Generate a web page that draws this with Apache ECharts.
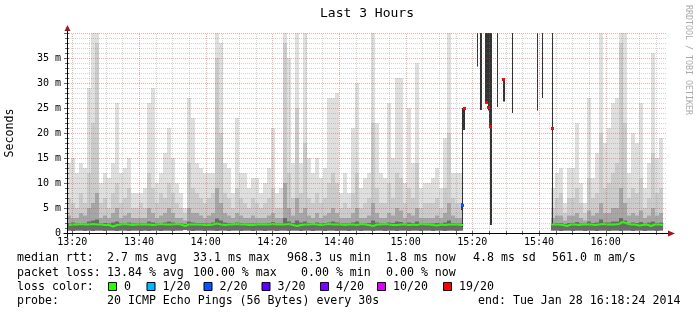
<!DOCTYPE html>
<html><head><meta charset="utf-8">
<script src="https://cdn.jsdelivr.net/npm/echarts@6/dist/echarts.min.js"></script>
<style>html,body{margin:0;padding:0;background:#fff}#c{width:697px;height:315px}</style>
</head><body><div id="c"></div>
<script>
// ---- time base: minutes since midnight, 3 hours ending 16:18:24 ----
const START = 798.4, END = 978.4;
const STEP = 1.2;   // one smoke column = 72 s
const PING = 0.3;   // one pixel column = 18 s
const Y_MAX = 40;

const xTickValues = [800, 820, 840, 860, 880, 900, 920, 940, 960];
const xTickLabels = ['13:20','13:40','14:00','14:20','14:40','15:00','15:20','15:40','16:00'];
const yTickValues = [0, 5, 10, 15, 20, 25, 30, 35, 40];
const yTickLabels = ['0','5 m','10 m','15 m','20 m','25 m','30 m','35 m',''];

const gap = Array(22).fill(null);   // 100 % loss period, no smoke

// smoke layers (ms), one value per 72 s column
const tops = [
 14,15,12,14,13,29,40,40,10,12, 11,14,26,12,13,15,8,8,8,9,
 26,29,10,12,16,21,15,10,8,5, 27,23,14,13,12,12,12,40,38,14,
 13,8,23,12,12,9,11,11,8,10, 13,21,8,9,40,35,14,40,14,40,
 15,12,15,11,13,27,27,28,8,12, 8,21,30,9,11,12,40,22,12,11,
 26,15,31,31,10,25,14,34,9,10, 10,11,13,9,19,40,12,12,12,
 ...gap,
 9,12,13,6,13,13,22,10,6,27, 11,16,40,18,21,26,27,40,40,12,
 20,18,26,9,14,36,15,19, null];
const mids = [
 7,6,5,8,6,12,22,38,6,7, 5,8,10,6,7,9,5,5,6,5,
 12,9,6,8,7,10,8,6,5,4, 14,9,8,7,6,7,8,35,20,8,
 7,5,9,7,6,5,7,6,5,6, 7,9,5,5,38,12,7,25,8,18,
 7,6,8,6,7,10,12,10,5,6, 5,8,12,5,6,7,22,9,6,6,
 10,7,12,11,6,9,7,14,5,6, 6,6,7,5,9,20,7,6,6,
 ...gap,
 5,7,8,4,7,7,9,6,4,11, 7,8,20,9,10,12,14,38,22,7,
 9,8,11,5,7,16,8,9, null];
const darks = [
 3.5,3,3,4,3.5,5,6,8,3,3.5, 3,4,5,3,3.5,4,3,3,3,3,
 5,4,3,3.5,4,5,4,3,3,2.5, 5,4,4,3.5,3,3.5,4,9,6,4,
 3.5,3,4,3.5,3,3,3.5,3,3,3, 3.5,4,3,3,10,5,3.5,7,4,5,
 3.5,3,4,3,3.5,4,5,4,3,3, 3,4,5,3,3,3.5,6,4,3,3,
 4,3.5,5,4.5,3,4,3.5,5,3,3, 3,3,3.5,3,4,6,3.5,3,3,
 ...gap,
 3,3.5,3.5,2.5,3.5,3.5,4,3,2.5,4.5, 3.5,4,6,4,4,5,5,9,6,3.5,
 4,3.5,4.5,3,3.5,5,3.5,4, null];
const cores = [
 1.9,2.1,1.9,2.0,1.9,2.3,2.5,2.7,1.9,2.0, 1.9,2.1,2.3,1.9,2.0,2.1,1.9,1.9,1.9,1.9,
 2.3,2.1,1.9,2.0,2.1,2.3,2.1,1.9,1.9,1.8, 2.3,2.1,2.0,2.0,1.9,1.9,2.1,2.9,2.5,2.1,
 2.0,1.9,2.1,2.0,1.9,1.9,1.9,1.9,1.9,1.9, 2.0,2.2,1.9,1.9,3.0,2.3,2.0,2.5,2.1,2.3,
 2.0,1.9,2.1,1.9,2.0,2.1,2.3,2.1,1.9,1.9, 1.9,2.1,2.3,1.9,1.9,2.0,2.5,2.1,1.9,2.0,
 2.1,2.0,2.3,2.2,1.9,2.1,2.0,2.3,1.9,1.9, 1.9,1.9,2.0,1.9,2.1,2.5,2.0,1.9,1.9,
 ...gap,
 1.9,2.0,2.0,1.8,2.0,2.0,2.2,1.9,1.9,2.3, 2.0,2.1,2.7,2.1,2.1,2.3,2.3,3.0,2.5,2.0,
 2.1,2.0,2.2,1.9,2.1,2.3,2.0,2.1, null];
const lows = [
 0.5,0.4,0.5,0.5,0.4,0.5,0.4,0.5,0.5,0.4, 0.5,0.5,0.4,0.5,0.5,0.4,0.5,0.5,0.4,0.5,
 0.4,0.5,0.5,0.4,0.5,0.5,0.4,0.5,0.5,0.6, 0.5,0.4,0.5,0.5,0.4,0.5,0.5,0.4,0.5,0.5,
 0.4,0.5,0.5,0.4,0.5,0.5,0.4,0.5,0.5,0.4, 0.5,0.5,0.4,0.5,0.5,0.4,0.5,0.5,0.4,0.5,
 0.5,0.4,0.5,0.5,0.4,0.5,0.5,0.4,0.5,0.5, 0.4,0.5,0.5,0.4,0.5,0.5,0.4,0.5,0.5,0.4,
 0.5,0.5,0.4,0.5,0.5,0.4,0.5,0.5,0.4,0.5, 0.5,0.4,0.5,0.5,0.4,0.5,0.5,0.4,0.5,
 ...gap,
 0.5,0.5,0.4,0.5,0.5,0.4,0.5,0.5,0.4,0.5, 0.5,0.4,0.5,0.5,0.4,0.5,0.5,0.4,0.5,0.5,
 0.4,0.5,0.5,0.4,0.5,0.5,0.4,0.5, null];
const median = [
 1.6,1.7,1.7,1.8,1.7,1.7,1.8,1.7,1.7,1.6, 1.6,1.3,1.6,1.7,1.8,1.7,1.6,1.7,1.7,1.7,
 1.7,1.6,1.7,1.8,1.7,1.7,1.7,1.8,1.7,1.4, 1.7,1.7,1.7,1.7,1.6,1.6,1.7,1.9,1.7,1.6,
 1.7,1.7,1.8,1.7,1.7,1.6,1.6,1.7,1.7,1.7, 1.7,1.8,1.7,1.7,1.7,1.8,1.6,1.4,1.6,1.7,
 1.7,1.8,1.7,1.6,1.7,1.8,1.7,1.7,1.7,1.6, 1.7,1.7,1.6,1.8,1.7,1.6,1.4,1.7,1.7,1.8,
 1.7,1.6,1.6,1.7,1.7,1.6,1.7,1.6,1.8,1.7, 1.7,1.6,1.5,1.7,1.6,1.7,1.7,1.7,1.6,
 ...gap,
 1.7,1.7,1.6,1.4,1.7,1.7,1.6,1.7,1.7,1.7, 1.6,1.7,1.8,1.7,1.7,1.7,1.8,2.2,1.9,1.7,
 1.7,1.5,1.6,1.7,1.4,1.7,1.7,1.6, null];

// isolated replies during the outage: [time (min), low ms, high ms], one 18 s column each
const outageBars = [
 [916.6,4.6,6.0],[916.9,1.2,25.0],[917.2,20.6,25.0],[917.5,20.6,25.0],
 [921.4,33.3,40],[922.3,24.6,40],[922.6,24.6,40],
 [923.8,26.3,40],[924.1,26.3,40],[924.4,26.3,40],[924.7,24.5,40],[925.0,21.4,40],
 [925.3,1.6,40],[925.6,1.6,40],[927.4,25.2,40],[929.2,26.3,31.0],[929.5,26.3,31.0],
 [931.9,24.0,40],[939.4,24.5,40],[940.9,27.0,40],[943.9,1.6,40]];
// medians with loss: [time, ms, loss class index]
const lossPoints = [
 [916.9,5.6,2],[917.5,25.0,6],[924.1,26.3,6],[924.7,25.3,6],[925.3,21.4,6],
 [929.2,30.8,6],[943.9,21.0,6]];

const lossLabels = ['0','1/20','2/20','3/20','4/20','10/20','19/20'];
const lossColors = ['#26ff00','#00b8ff','#0059ff','#5e00ff','#7e00ff','#dd00ff','#ff0000'];

const rttStats = ['2.7 ms avg','33.1 ms max','968.3 us min','1.8 ms now','4.8 ms sd','561.0 m am/s'];
const lossStats = ['13.84 % avg','100.00 % max','0.00 % min','0.00 % now'];
const probeText = '20 ICMP Echo Pings (56 Bytes) every 30s';
const endText = 'end: Tue Jan 28 16:18:24 2014';

// ---- styling ----
const MONO = 'DejaVu Sans Mono';
const shades = ['#dfdfdf','#cbcbcb','#a6a6a6','#6a6a6a'];
const MINOR = 'rgba(120,120,120,0.32)';
const MAJOR = 'rgba(222,60,60,0.42)';

const smokeData = [];
tops.forEach((v, i) => {
  if (v == null) return;
  smokeData.push([START + i * STEP, lows[i], cores[i], darks[i], mids[i], v]);
});
const medianData = median.map((v, i) => [START + i * STEP + STEP / 2, v == null ? '-' : v]);

const vGrid = [];
for (let t = 800; t < END; t += 5) vGrid.push([t, 0, xTickValues.indexOf(t) >= 0 ? 1 : 0]);
const hGrid = [];
for (let v = 1; v <= Y_MAX; v += 1) hGrid.push([START, v, v % 5 === 0 ? 1 : 0]);

function px(x) { return Math.round(x); }

const chart = echarts.init(document.getElementById('c'), null, {renderer: 'canvas'});

const legendY = [258, 272.5, 287, 301];
const rttX = [107, 193, 287, 386, 473, 552];
const lossX = [107, 193, 301, 386];
const boxX = [108, 146.5, 203.5, 261.5, 320, 377, 443];
const F = '11.6px ' + MONO;

const graphics = [
  {type:'text', style:{text:'Last 3 Hours', x:367, y:14, font:'13px ' + MONO, fill:'#000', align:'center', verticalAlign:'middle'}},
  {type:'text', rotation: Math.PI/2, x: 10, y: 133, style:{text:'Seconds', font:F, fill:'#000', align:'center', verticalAlign:'middle'}},
  {type:'text', rotation: -Math.PI/2, x: 688, y: 60, style:{text:'RRDTOOL / TOBI OETIKER', font:'8.3px ' + MONO, fill:'#aaaaaa', align:'center', verticalAlign:'middle'}},
  {type:'text', style:{text:'median rtt:', x:17, y:legendY[0], font:F, fill:'#000', verticalAlign:'middle'}},
  {type:'text', style:{text:'packet loss:', x:17, y:legendY[1], font:F, fill:'#000', verticalAlign:'middle'}},
  {type:'text', style:{text:'loss color:', x:17, y:legendY[2], font:F, fill:'#000', verticalAlign:'middle'}},
  {type:'text', style:{text:'probe:', x:17, y:legendY[3], font:F, fill:'#000', verticalAlign:'middle'}},
  {type:'text', style:{text:probeText, x:107, y:legendY[3], font:F, fill:'#000', verticalAlign:'middle'}},
  {type:'text', style:{text:endText, x:478, y:legendY[3], font:F, fill:'#000', verticalAlign:'middle'}}
];
rttStats.forEach((s, k) => graphics.push({type:'text', style:{text:s, x:rttX[k], y:legendY[0], font:F, fill:'#000', verticalAlign:'middle'}}));
lossStats.forEach((s, k) => graphics.push({type:'text', style:{text:s, x:lossX[k], y:legendY[1], font:F, fill:'#000', verticalAlign:'middle'}}));
lossLabels.forEach((s, k) => {
  graphics.push({type:'rect', shape:{x:boxX[k]+0.5, y:legendY[2]-4.5, width:8, height:8}, style:{fill:lossColors[k], stroke:'#000', lineWidth:1}});
  graphics.push({type:'text', style:{text:s, x:boxX[k]+16, y:legendY[2], font:F, fill:'#000', verticalAlign:'middle'}});
});

chart.setOption({
  animation: false,
  backgroundColor: '#ffffff',
  grid: {left: 67, right: 30, top: 33, bottom: 82, containLabel: false},
  xAxis: {
    type: 'value', min: START, max: END,
    axisLine: {show: false}, axisTick: {show: false}, splitLine: {show: false},
    axisLabel: {
      customValues: xTickValues, margin: 4, color: '#000', fontFamily: MONO, fontSize: 10,
      formatter: v => { const k = xTickValues.indexOf(Math.round(v)); return k >= 0 ? xTickLabels[k] : ''; }
    }
  },
  yAxis: {
    type: 'value', min: 0, max: Y_MAX, interval: 5,
    axisLine: {show: false}, axisTick: {show: false}, splitLine: {show: false},
    axisLabel: {
      margin: 6, color: '#000', fontFamily: MONO, fontSize: 10,
      formatter: v => { const k = yTickValues.indexOf(v); return k >= 0 ? yTickLabels[k] : ''; }
    }
  },
  graphic: graphics,
  series: [
    { // smoke
      type: 'custom', z: 2, clip: true, data: smokeData,
      encode: {x: 0, y: 5},
      renderItem: (params, api) => {
        const t = api.value(0);
        const xa = px(api.coord([t, 0])[0]);
        const xb = px(api.coord([t + STEP, 0])[0]);
        const yLo = api.coord([t, api.value(1)])[1];
        const children = [];
        [5, 4, 3, 2].forEach((dim, k) => {
          const yHi = api.coord([t, Math.min(api.value(dim), Y_MAX)])[1];
          children.push({type: 'rect', shape: {x: xa, y: yHi, width: xb - xa, height: yLo - yHi}, style: {fill: shades[k]}});
        });
        return {type: 'group', children};
      }
    },
    { // isolated replies during outage
      type: 'custom', z: 3, clip: true, data: outageBars,
      encode: {x: 0, y: 2},
      renderItem: (params, api) => {
        const t = api.value(0);
        const xa = px(api.coord([t, 0])[0]);
        const xb = Math.max(xa + 1, px(api.coord([t + PING, 0])[0]));
        const y1 = api.coord([t, api.value(1)])[1];
        const y2 = api.coord([t, api.value(2)])[1];
        return {type: 'rect', shape: {x: xa, y: y2, width: xb - xa, height: y1 - y2}, style: {fill: '#333333'}};
      }
    },
    { // median line
      type: 'line', z: 4, data: medianData, showSymbol: false, symbol: 'none', step: 'middle',
      lineStyle: {color: lossColors[0], width: 2}, connectNulls: false, silent: true
    },
    { // loss-coloured medians
      type: 'custom', z: 5, clip: true, data: lossPoints,
      encode: {x: 0, y: 1},
      renderItem: (params, api) => {
        const p = api.coord([api.value(0), api.value(1)]);
        return {type: 'rect', shape: {x: px(p[0]) - 1, y: px(p[1]) - 1, width: 3, height: 3}, style: {fill: lossColors[api.value(2)]}};
      }
    },
    { // vertical grid
      type: 'custom', z: 6, silent: true, data: vGrid, encode: {x: 0, y: 1},
      renderItem: (params, api) => {
        const t = api.value(0);
        const x = px(api.coord([t, 0])[0]) + 0.5;
        const y0 = api.coord([t, 0])[1], y1 = api.coord([t, Y_MAX])[1];
        const major = api.value(2) === 1;
        return {type: 'group', children: [
          {type: 'line', shape: {x1: x, y1: y0, x2: x, y2: y1}, style: {stroke: major ? MAJOR : MINOR, lineWidth: 1, lineDash: [1, 1]}},
          {type: 'line', shape: {x1: x, y1: y0 - 2, x2: x, y2: y0 + (major ? 3 : 2)}, style: {stroke: '#666', lineWidth: 1}}
        ]};
      }
    },
    { // horizontal grid
      type: 'custom', z: 6, silent: true, data: hGrid, encode: {x: 0, y: 1},
      renderItem: (params, api) => {
        const v = api.value(1);
        const y = px(api.coord([START, v])[1]) + 0.5;
        const x0 = api.coord([START, v])[0], x1 = api.coord([END, v])[0];
        const major = api.value(2) === 1;
        return {type: 'group', children: [
          {type: 'line', shape: {x1: x0, y1: y, x2: x1, y2: y}, style: {stroke: major ? MAJOR : MINOR, lineWidth: 1, lineDash: [1, 1]}},
          {type: 'line', shape: {x1: x0 - (major ? 3 : 2), y1: y, x2: x0 + 2, y2: y}, style: {stroke: '#666', lineWidth: 1}}
        ]};
      }
    },
    { // axes with arrows
      type: 'custom', z: 7, silent: true, clip: false, data: [[START, 0]], encode: {x: 0, y: 1},
      renderItem: (params, api) => {
        const o = api.coord([START, 0]);
        const e = api.coord([END, Y_MAX]);
        const ox = px(o[0]) + 0.5, oy = px(o[1]) + 0.5;
        const ex = px(e[0]), ty = px(e[1]);
        return {type: 'group', children: [
          {type: 'line', shape: {x1: ox - 4, y1: oy, x2: ex + 2, y2: oy}, style: {stroke: '#000', lineWidth: 1}},
          {type: 'line', shape: {x1: ox, y1: oy + 4, x2: ox, y2: ty - 3}, style: {stroke: '#000', lineWidth: 1}},
          {type: 'polygon', shape: {points: [[ex + 1, oy - 3], [ex + 8, oy], [ex + 1, oy + 3]]}, style: {fill: '#a01818'}},
          {type: 'polygon', shape: {points: [[ox - 3, ty - 2], [ox, ty - 8], [ox + 3, ty - 2]]}, style: {fill: '#a01818'}}
        ]};
      }
    }
  ]
});
</script></body></html>
